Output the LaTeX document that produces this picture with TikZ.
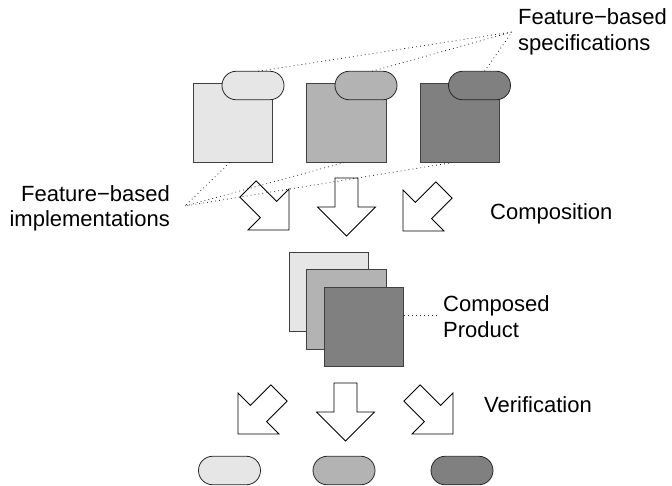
\documentclass[tikz,border=0pt]{standalone}
\usepackage{fontspec}
\setmainfont{Liberation Sans}
\usetikzlibrary{calc}
\definecolor{lightg}{HTML}{E6E6E6}
\definecolor{midg}{HTML}{B3B3B3}
\definecolor{darkg}{HTML}{808080}
\begin{document}
\begin{tikzpicture}[x=1pt,y=-1pt,
  sq/.style={draw=black!75,line width=0.9pt,minimum width=79.5pt,minimum height=79.5pt,inner sep=0pt,outer sep=0pt,anchor=north west},
  pill/.style={draw=black!85,line width=0.8pt,minimum width=62pt,minimum height=28.5pt,inner sep=0pt,outer sep=0pt,rounded corners=14.2pt},
  lbl/.style={font=\fontsize{22}{25.5}\selectfont,inner sep=0pt,align=left},
  conn/.style={line width=0.8pt,dash pattern=on 0.8pt off 3.2pt,black!85},
  pics/blockarrow/.style={code={\draw[line width=0.8pt,fill=white,line join=miter]
    (-11.5,0) -- (-11.5,29) -- (-29,29) -- (0,58) -- (29,29) -- (11.5,29) -- (11.5,0) -- cycle;}}
]
\useasboundingbox (0,0) rectangle (672,485);

% top feature implementations and specifications
\node[sq,fill=lightg] (s1) at (193,83) {};
\node[sq,fill=midg]   (s2) at (306.5,83) {};
\node[sq,fill=darkg]  (s3) at (420,83) {};
\node[pill,fill=lightg] (p1) at (253,85.5) {};
\node[pill,fill=midg]   (p2) at (366,85.5) {};
\node[pill,fill=darkg]  (p3) at (479.5,85.5) {};

% composition arrows
\pic[rotate=45]  (ca1) at (248,189) {blockarrow};
\pic             (ca2) at (346.5,178) {blockarrow};
\pic[rotate=-45] (ca3) at (444,190) {blockarrow};

% composed product
\node[sq,fill=lightg] (c1) at (289,252) {};
\node[sq,fill=midg]   (c2) at (306.5,269.5) {};
\node[sq,fill=darkg]  (c3) at (324,287) {};

% verification arrows
\pic[rotate=-45] (va1) at (279,393) {blockarrow};
\pic             (va2) at (345.5,383) {blockarrow};
\pic[rotate=45]  (va3) at (412,393) {blockarrow};

% results
\node[pill,fill=lightg] (r1) at (229.5,470.5) {};
\node[pill,fill=midg]   (r2) at (344,470.5) {};
\node[pill,fill=darkg]  (r3) at (462,470.5) {};

% labels (base anchor = last line)
\node[lbl,anchor=base west] (spec) at (518,50) {Feature−based\\specifications};
\node[lbl,anchor=base east,align=right] (impl) at (170,226.5) {Feature−based\\implementations};
\node[lbl,anchor=base west] (comp) at (490,219) {Composition};
\node[lbl,anchor=base west] (cprod) at (443,337) {Composed\\Product};
\node[lbl,anchor=base west] (verif) at (484,412) {Verification};

% dotted leaders
\coordinate (sj) at (512,32);
\coordinate (ij) at (185,206);
\coordinate (cj) at (438,315);
\draw[conn] ($(p1.north)+(5,0)$) -- (sj);
\draw[conn] ($(p2.north)+(6,0)$) -- (sj);
\draw[conn] ($(p3.north)+(5,0)$) -- (sj);
\draw[conn] ($(s1.south)+(-3,0)$) -- (ij);
\draw[conn] ($(s2.south)+(-2,0)$) -- (ij);
\draw[conn] ($(s3.south)+(-7,0)$) -- (ij);
\draw[conn] ($(c3.north east)+(0,28)$) -- (cj);
\end{tikzpicture}
\end{document}
